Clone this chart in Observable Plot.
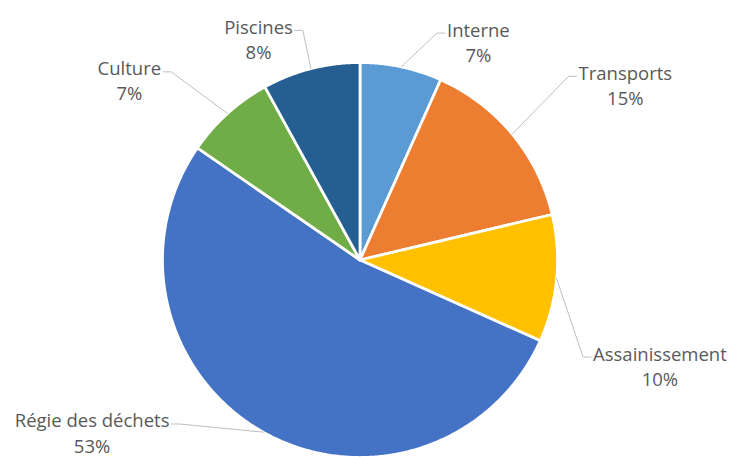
<!DOCTYPE html>
<html><head><meta charset="utf-8">
<script src="https://cdn.jsdelivr.net/npm/d3@7"></script>
<script src="https://cdn.jsdelivr.net/npm/@observablehq/plot@0.6"></script>
<style>html,body{margin:0;padding:0;background:#fff;} #chart svg{display:block;overflow:visible}</style>
</head><body><div id="chart"></div>
<script>
// ---- data ----
const categories = ["Interne", "Transports", "Assainissement", "Régie des déchets", "Culture", "Piscines"];
const shares = [6.7, 14.6, 10.4, 52.9, 7.4, 8.0];
const percentLabels = ["7%", "15%", "10%", "53%", "7%", "8%"];
const sliceColors = ["#5B9BD5", "#ED7D31", "#FFC000", "#4472C4", "#70AD47", "#255E91"];

// ---- label layout (polar, angle clockwise from top in degrees, radius in pie radii) ----
const labelAngle = [28.4, 56.5, 109.3, 237.3, 308.0, 335.4];
const labelRadius = [1.26, 1.611, 1.609, 1.612, 1.482, 1.234];

const W = 733, H = 457, mL = 162, mR = 176, mT = 62, mB = 0;
const R = (W - mL - mR) / 2; // px per unit
const FONT_SIZE = 18.5, FONT_FAMILY = '"Open Sans", sans-serif';

const arcs = d3.pie().sort(null).value(d => d)(shares);

// slice polygons
const slicePts = [];
arcs.forEach((p, i) => {
  const cat = categories[i];
  slicePts.push({x: 0, y: 0, cat});
  const n = Math.max(2, Math.ceil((p.endAngle - p.startAngle) / (Math.PI / 360)));
  for (let k = 0; k <= n; k++) {
    const a = p.startAngle + (p.endAngle - p.startAngle) * k / n;
    slicePts.push({x: Math.sin(a), y: Math.cos(a), cat});
  }
  slicePts.push({x: 0, y: 0, cat});
});

// labels + leader lines
const ctx = document.createElement("canvas").getContext("2d");
ctx.font = `${FONT_SIZE}px ${FONT_FAMILY}`;
const labels = [], leaders = [];
arcs.forEach((p, i) => {
  const cat = categories[i];
  const a = labelAngle[i] * Math.PI / 180;
  const lx = labelRadius[i] * Math.sin(a), ly = labelRadius[i] * Math.cos(a);
  labels.push({x: lx, y: ly, text: cat + "\n" + percentLabels[i]});
  const mid = (p.startAngle + p.endAngle) / 2;
  const w = ctx.measureText(cat).width / R;
  const side = lx > 0 ? -1 : 1;
  const edge = lx + side * w / 2;
  const yy = ly + 8 / R;
  leaders.push({x: Math.sin(mid), y: Math.cos(mid), cat});
  leaders.push({x: edge + side * 10 / R, y: yy, cat});
  leaders.push({x: edge + side * 2 / R, y: yy, cat});
});

const chart = Plot.plot({
  width: W, height: H,
  marginLeft: mL, marginRight: mR, marginTop: mT, marginBottom: mB,
  x: {domain: [-1, 1], axis: null},
  y: {domain: [-1, 1], axis: null},
  color: {domain: categories, range: sliceColors},
  style: {fontFamily: FONT_FAMILY, background: "#fff", overflow: "visible"},
  marks: [
    Plot.line(slicePts, {x: "x", y: "y", z: "cat", fill: "cat", stroke: "white", strokeWidth: 2.75, strokeLinejoin: "round"}),
    Plot.line(leaders, {x: "x", y: "y", z: "cat", stroke: "#bfbfbf", strokeWidth: 1}),
    Plot.text(labels, {x: "x", y: "y", text: "text", fill: "#595959", fontSize: FONT_SIZE, fontFamily: FONT_FAMILY, lineHeight: 1.36, textAnchor: "middle", lineAnchor: "middle"})
  ]
});
document.getElementById("chart").appendChild(chart);
</script>
</body></html>
